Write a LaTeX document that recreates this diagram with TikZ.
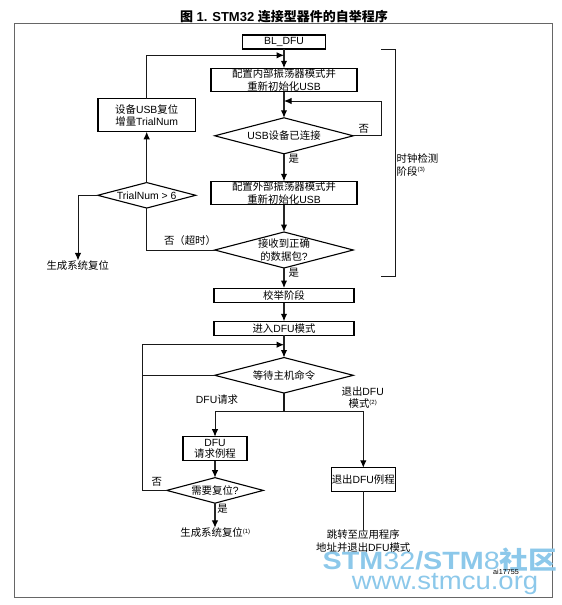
\documentclass[tikz,border=0pt]{standalone}
\usepackage{fontspec}
\setmainfont{Liberation Sans}
\newfontfamily\cjk{Noto Sans CJK SC}
\newcommand{\zh}[1]{{\cjk #1}}
\newcommand{\fn}[1]{\raisebox{3.2pt}{\fontsize{6}{6}\selectfont(#1)}}
\usetikzlibrary{shapes.geometric,arrows.meta}
\definecolor{wm}{HTML}{8CC8EA}
\tikzset{
  x=1pt,y=-1pt,
  every node/.style={font=\fontsize{10.4}{12.4}\selectfont,align=center,inner sep=0pt,outer sep=0pt},
  boxa/.style={draw=black,line width=1.1pt,rectangle},
  dia/.style={draw=black,line width=1.1pt,diamond},
  conn/.style={draw=black!85,line width=1.2pt,-{Latex[length=7.5pt,width=6.5pt,black]}},
  thin conn/.style={draw=black!90,line width=1pt,-{Latex[length=7.5pt,width=6.5pt,black]}},
  plain/.style={draw=black!90,line width=1pt},
  wmark/.style={text=wm,transform shape},
}
\begin{document}
\begin{tikzpicture}
\useasboundingbox (0,0) rectangle (562,605);
\draw[draw=black!60,line width=1pt] (14.5,23.5) rectangle (552.5,597);
\node[font=\fontsize{13}{14}\selectfont\bfseries] (title) at (284,16.5) {{\cjk\bfseries 图} 1. STM32 {\cjk\bfseries 连接型器件的自举程序}};

% watermark
\node[wmark,xscale=1.15,font=\fontsize{25}{27}\selectfont] (wm1) at (440,560) {\textbf{STM}32\textbf{/STM}8{\cjk\bfseries 社区}};
\node[wmark,xscale=1.1,font=\fontsize{25}{27}\selectfont] (wm2) at (445,584) {www.stmcu.org};

% main column
\node[boxa,minimum width=83pt,minimum height=14pt] (bl) at (284,42) {BL\_DFU};
\coordinate (m1) at (284,55.3);
\node[boxa,minimum width=146pt,minimum height=23.5pt] (c1) at (284,80) {\zh{配置内部振荡器模式并}\\\zh{重新初始化}USB};
\coordinate (m2) at (284,101);
\node[dia,minimum width=138.5pt,minimum height=36pt,label={center:USB\zh{设备已连接}}] (d1) at (284,135.8) {};
\node[boxa,minimum width=146pt,minimum height=23.5pt] (c2) at (284,193) {\zh{配置外部振荡器模式并}\\\zh{重新初始化}USB};
\node[dia,minimum width=138.5pt,minimum height=36pt,label={[align=center]center:\zh{接收到正确}\\\zh{的数据包}?}] (d2) at (284,250) {};
\node[boxa,minimum width=140pt,minimum height=14.5pt] (cal) at (284,295.3) {\zh{校举阶段}};
\node[boxa,minimum width=140pt,minimum height=14pt] (dfu) at (284,328.3) {\zh{进入}DFU\zh{模式}};
\coordinate (m3) at (284,344.7);
\node[dia,minimum width=138.5pt,minimum height=35.5pt,label={center:\zh{等待主机命令}}] (d3) at (284,375.3) {};
\coordinate (m4) at (284,411);

% left column
\node[boxa,minimum width=97.5pt,minimum height=33pt] (rst) at (146.7,115.3) {\zh{设备}USB\zh{复位}\\\zh{增量}TrialNum};
\node[dia,minimum width=98pt,minimum height=25.5pt,label={center:TrialNum > 6}] (tn) at (146.7,195.3) {};
\node (gen) at (77.7,265.3) {\zh{生成系统复位}};
\coordinate (t1) at (78,195.3);
\coordinate (t2) at (146.7,250);
\coordinate (t3) at (146.7,55.3);
\node (notimeout) at (190,241) {\zh{否（超时）}};

% lower branches
\coordinate (b1) at (215,411);
\coordinate (b2) at (363.3,411);
\node[boxa,minimum width=64pt,minimum height=24pt] (req) at (215,448.7) {DFU\\[-1.5pt]\zh{请求例程}};
\node[dia,minimum width=96.5pt,minimum height=25.5pt,label={center:\zh{需要复位}?}] (d4) at (215,490.4) {};
\node (gen2) at (215.3,532.7) {\zh{生成系统复位}\fn{1}};
\node[boxa,minimum width=64pt,minimum height=23.5pt] (ex) at (363.3,479.5) {\zh{退出}DFU\zh{例程}};
\node (jump) at (363.3,541) {\zh{跳转至应用程序}\\\zh{地址并退出}DFU\zh{模式}};
\coordinate (l1) at (142,375.3);
\coordinate (l2) at (142,490.4);
\coordinate (l3) at (142,344.7);

% connectors
\draw[conn] (bl) -- (c1);
\draw[conn] (c1) -- (d1);
\draw[conn] (d1) -- (c2);
\draw[conn] (c2) -- (d2);
\draw[conn] (d2) -- (cal);
\draw[conn] (cal) -- (dfu);
\draw[conn] (dfu) -- (d3);
\draw[plain,line width=1.2pt] (d3.south) -- (m4);
\draw[thin conn] (tn) -- (rst);
\draw[thin conn] (rst.north) -- (t3) -- (m1);
\draw[thin conn] (tn.west) -- (t1) -- (gen.north -| t1);
\draw[plain] (tn) -- (t2) -- (d2.west);
\draw[thin conn] (d1.east) -- (381,135.8) -- (381,101) -- (m2);
\draw[thin conn] (b2) -- (b1) -- (req);
\draw[thin conn] (b2) -- (ex);
\draw[conn] (req) -- (d4);
\draw[conn] (d4.south) -- (d4.south |- gen2.north);
\draw[plain] (ex) -- (jump);
\draw[plain] (d3.west) -- (l1);
\draw[thin conn] (d4.west) -- (l2) -- (l3) -- (m3);

% bracket
\draw[plain] (381,49) -- (395,49) -- (395,276) -- (381,276);
\node[anchor=west,align=left] (clk) at (396.7,165) {\zh{时钟检测}\\\zh{阶段}\fn{3}};
\node (no1) at (363.7,129) {\zh{否}};
\node (yes1) at (293.7,158.7) {\zh{是}};
\node (yes2) at (293.7,272.7) {\zh{是}};
\node (dfureq) at (217,399.3) {DFU\zh{请求}};
\node (exitdfu) at (362.7,397.3) {\zh{退出}DFU\\\zh{模式}\fn{2}};
\node (no2) at (156.7,482) {\zh{否}};
\node (yes3) at (222.5,509) {\zh{是}};
\node[font=\fontsize{7.2}{8}\selectfont] (ai) at (506,572) {ai17755};
\end{tikzpicture}
\end{document}
